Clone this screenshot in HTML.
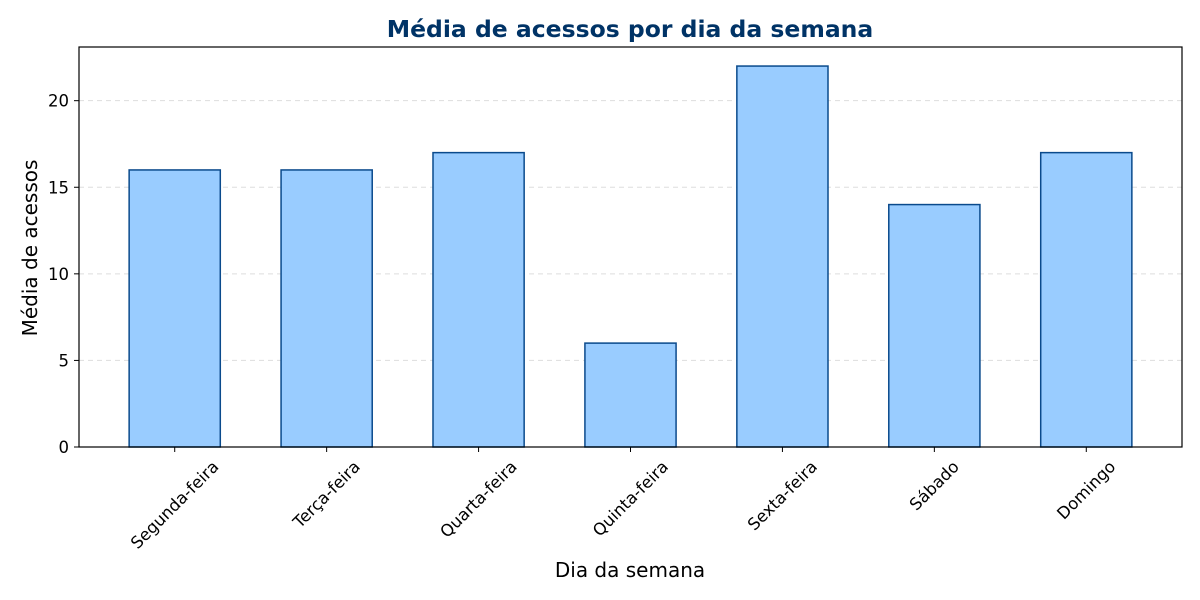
<!DOCTYPE html>
<html><head><meta charset="utf-8"><style>
body{margin:0;background:#fff}
svg{display:block;font-family:"DejaVu Sans","Liberation Sans",sans-serif}
</style></head><body>
<svg id="chart" width="1200" height="600">
<rect width="1200" height="600" fill="#fff"/>
<text x="630" y="37" text-anchor="middle" font-size="23.5" font-weight="bold" fill="#003366">Média de acessos por dia da semana</text>
<text x="630" y="577" text-anchor="middle" font-size="20">Dia da semana</text>
<text transform="translate(37,248) rotate(-90)" text-anchor="middle" font-size="20">Média de acessos</text>
<g id="grid"></g><g id="bars"></g><g id="axes"></g>
</svg>
<script>
const categories=["Segunda-feira","Terça-feira","Quarta-feira","Quinta-feira","Sexta-feira","Sábado","Domingo"];
const values=[16,16,17,6,22,14,17];
const yTicks=[0,5,10,15,20];
const L=79,R=1182,T=47,B=447;
const xMin=-0.63,xMax=6.63,yMax=23.1;
const xs=i=>L+(i-xMin)/(xMax-xMin)*(R-L);
const ys=v=>B-v/yMax*(B-T);
const NS="http://www.w3.org/2000/svg";
function mk(tag,attrs,parent){const e=document.createElementNS(NS,tag);for(const k in attrs)e.setAttribute(k,attrs[k]);parent.appendChild(e);return e;}
const grid=document.getElementById('grid'),bars=document.getElementById('bars'),axes=document.getElementById('axes');
const bw=(xs(0.6)-xs(0));
yTicks.forEach(v=>{
 if(v>0){const g=mk('line',{x1:L,x2:R,y1:ys(v),y2:ys(v),stroke:'#ddd','stroke-dasharray':'5,4'},grid);
 
 }
 const t=mk('line',{x1:L-5,x2:L,y1:ys(v),y2:ys(v),stroke:'#000'},axes);
 
 
 const l=mk('text',{x:L-10,y:ys(v)+6,'text-anchor':'end','font-size':'16.5'},axes);
 l.textContent=v;
 
 
});
categories.forEach((c,i)=>{
 const r=mk('rect',{x:xs(i)-bw/2,y:ys(values[i]),width:bw,height:B-ys(values[i]),fill:'#99ccff',stroke:'#0a4a8c','stroke-width':'1.5'},bars);
 
 
 const t=mk('line',{x1:xs(i),x2:xs(i),y1:B,y2:B+5,stroke:'#000'},axes);
 
 
 const l=mk('text',{'text-anchor':'middle','dominant-baseline':'central','font-size':'16.5'},axes);
 l.textContent=c;
 
 
 const w=l.getComputedTextLength(),h=16.5;
 const cy=458+(w+h)/(2*Math.SQRT2);
 l.setAttribute('transform','translate('+xs(i)+','+cy+') rotate(-45)');
});
const f=mk('rect',{x:L,y:T,width:R-L,height:B-T,fill:'none',stroke:'#000','stroke-width':'1.2'},axes);


</script>
</body></html>
